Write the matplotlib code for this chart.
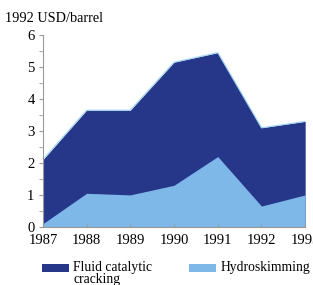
import matplotlib
matplotlib.use("Agg")
import matplotlib.pyplot as plt
from matplotlib.patches import Rectangle

years = [1987, 1988, 1989, 1990, 1991, 1992, 1993]
fcc = [2.1, 3.65, 3.65, 5.15, 5.45, 3.1, 3.3]
hydro = [0.1, 1.05, 1.0, 1.3, 2.2, 0.65, 1.0]
yticks = [0, 1, 2, 3, 4, 5, 6]
series_labels = ["Fluid catalytic\ncracking", "Hydroskimming"]

dark = "#26378a"
light = "#7db8e8"

plt.rcParams['font.family'] = ['Liberation Serif', 'DejaVu Serif']

W, H = 313, 285
fig = plt.figure(figsize=(3.13, 2.85), dpi=100)
ax = fig.add_axes([0.137, 0.204, 0.838, 0.673])
ax.fill_between(years, 0, fcc, color=dark, lw=0)
ax.plot(years, fcc, color="#9fd6f0", lw=0.8)
ax.fill_between(years, 0, hydro, color=light, lw=0)

ax.set_xlim(1987, 1993)
ax.set_ylim(0, 6)
ax.set_yticks(yticks)
ax.set_yticks([0.5, 1.5, 2.5, 3.5, 4.5, 5.5], minor=True)
ax.set_xticks(years)
for s in ['top', 'right']:
    ax.spines[s].set_visible(False)
for s in ['left', 'bottom']:
    ax.spines[s].set_color('#999999')
    ax.spines[s].set_linewidth(0.8)
ax.tick_params(axis='y', which='both', direction='out', length=3, color='#999999',
               labelsize=10.5, pad=3)
ax.tick_params(axis='x', direction='in', length=2, color='#999999', labelsize=10.5, pad=5.5)

fig.text(0.016, 0.935, "1992 USD/barrel", fontsize=10.3, ha='left', va='center')

# legend (manual placement, pixel coords from top-left)
legend_items = [(series_labels[0], dark, 42, 73), (series_labels[1], light, 189, 221)]
for label, col, px, tx in legend_items:
    fig.patches.append(Rectangle((px / W, 1 - 272 / H), 27 / W, 8 / H,
                                 transform=fig.transFigure, color=col, lw=0))
    fig.text(tx / W, 1 - 261 / H, label, fontsize=9.8, ha='left', va='top',
             linespacing=0.95)

fig.savefig("out.png", dpi=100)
